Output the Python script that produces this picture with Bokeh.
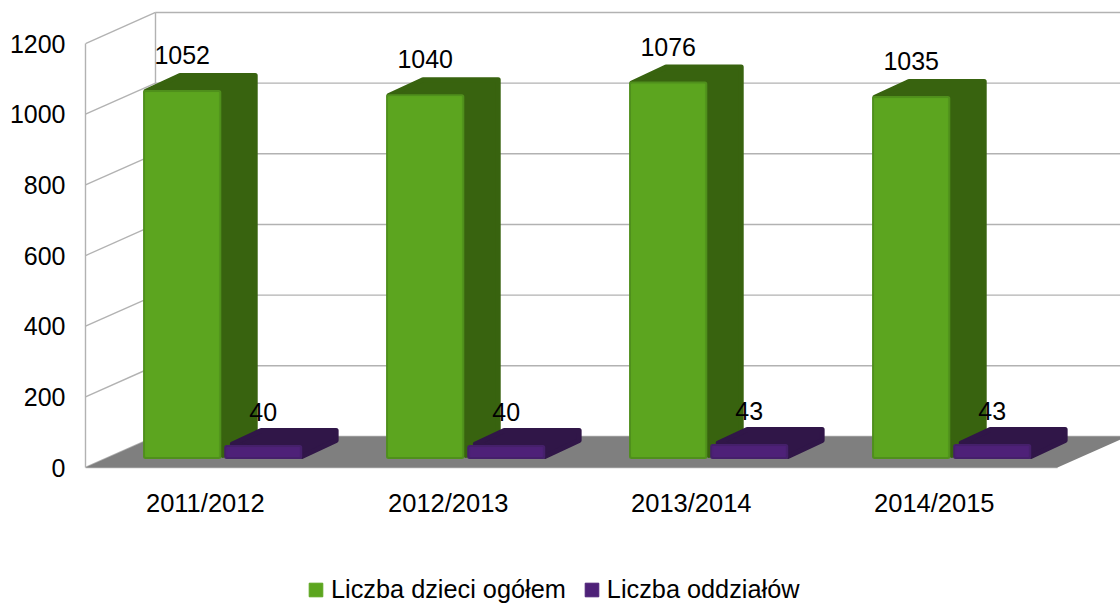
from bokeh.plotting import figure
from bokeh.models import Range1d, FixedTicker, Legend, LegendItem, LinearAxis
from bokeh.core.properties import value
from bokeh.embed import file_html
from bokeh.resources import INLINE

categories = ["2011/2012", "2012/2013", "2013/2014", "2014/2015"]
dzieci = [1052, 1040, 1076, 1035]
oddzialy = [40, 40, 43, 43]
y_ticks = [0, 200, 400, 600, 800, 1000, 1200]
series_names = ["Liczba dzieci ogółem", "Liczba oddziałów"]

FONT = "Liberation Sans"
W, H = 1120, 603
PX_X = 243.0
PX_Y = 0.3533
LEFT = 85
DX, DY = 70 / PX_X, 88.0       # shift of the back wall, in data units
D0, D1 = 0.26, 0.78            # bar depth
BAR_LIFT = 1.05                # bars rise a little faster with depth than the walls
BAR_K = 0.993                  # bars sit a little deeper, so a little smaller
GREEN = ("#5CA51F", "#4F8F1C", "#38630F")
PURPLE = ("#4E2178", "#45206A", "#301648")
GRID = "#B2B2B2"


def P(x, v, d, lift=1.0):
    return x + d * DX, v + d * DY * lift


def faces(x0, x1, v):
    top = v * BAR_K
    L = BAR_LIFT
    front = [P(x0, 0, D0, L), P(x1, 0, D0, L), P(x1, top, D0, L), P(x0, top, D0, L)]
    body = [P(x1, 0, D0, L), P(x1, 0, D1, L), P(x1, top, D1, L), P(x0, top, D1, L), P(x0, top, D0, L)]
    return front, body


def inset(q, r):
    """Move a counter-clockwise convex polygon inwards by r screen pixels, so a round stroke rebuilds its outline."""
    pts = [(a * PX_X, b * PX_Y) for a, b in q]
    m = len(pts)
    lines = []
    for k in range(m):
        (x1, y1), (x2, y2) = pts[k], pts[(k + 1) % m]
        dx, dy = x2 - x1, y2 - y1
        ln = (dx * dx + dy * dy) ** 0.5
        nx, ny = -dy / ln, dx / ln
        lines.append((x1 + nx * r, y1 + ny * r, dx, dy))
    out = []
    for k in range(m):
        x1, y1, dx1, dy1 = lines[k - 1]
        x2, y2, dx2, dy2 = lines[k]
        det = dx1 * dy2 - dy1 * dx2
        t = ((x2 - x1) * dy2 - (y2 - y1) * dx2) / det
        out.append(((x1 + t * dx1) / PX_X, (y1 + t * dy1) / PX_Y))
    return out


def xy(polys):
    return [[a for a, _ in q] for q in polys], [[b for _, b in q] for q in polys]


n = len(categories)
x_end = (W - LEFT) / PX_X
p = figure(width=W, height=H, output_backend="svg", toolbar_location=None, tools="",
           x_range=Range1d(0, x_end), y_range=Range1d(-136 / PX_Y, 467 / PX_Y),
           x_axis_type=None, y_axis_type=None,
           min_border_left=LEFT, min_border_bottom=0, min_border_top=0, min_border_right=0)
p.grid.visible = False
p.outline_line_color = None
p.background_fill_color = "white"
p.border_fill_color = "white"

# walls
xs, ys = [], []
for t in y_ticks:
    a, b = P(0, t, 0), P(0, t, 1)
    xs += [[a[0], b[0]], [b[0], x_end]]
    ys += [[a[1], b[1]], [b[1], b[1]]]
xs.append([P(0, 0, 1)[0]] * 2)
ys.append([P(0, 0, 1)[1], P(0, y_ticks[-1], 1)[1]])
xs.append([0, n])
ys.append([0, 0])
p.multi_line(xs, ys, line_color=GRID, line_width=1.4)

# floor
fx, fy = xy([[P(0, 0, 0), P(n, 0, 0), P(n, 0, 1), P(0, 0, 1)]])
p.patches(fx, fy, fill_color="#7F7F7F", line_color=None)

# bars
legend_refs = []
layers = [(dzieci, 0.162, 0.484, GREEN, -35), (oddzialy, 0.496, 0.817, PURPLE, -33)]
for i in range(n):
    for vals, a, b, col, _ in layers:
        front, body = faces(i + a, i + b, vals[i])
        qx, qy = xy([inset(body, 2.5)])
        p.patches(qx, qy, fill_color=col[2], line_color=col[2], line_width=5, line_join="round")
        qx, qy = xy([inset(front, 2.5)])
        p.patches(qx, qy, fill_color=col[1], line_color=col[1], line_width=5, line_join="round")
        qx, qy = xy([inset(front, 2.5)])
        r = p.patches(qx, qy, fill_color=col[0], line_color=col[0], line_width=1)
        if i == 0:
            legend_refs.append(r)

# data labels
for vals, a, b, _, off in layers:
    lx = [P(i + (a + b) / 2, 0, D0)[0] for i in range(n)]
    ly = [P(0, v * BAR_K, D0, BAR_LIFT)[1] for v in vals]
    p.text(lx, ly, text=[str(v) for v in vals], text_font=value(FONT), text_font_size="25px",
           text_color="black", text_align="center", text_baseline="middle", y_offset=off)

# axes
ya = LinearAxis(ticker=FixedTicker(ticks=y_ticks), bounds=(0, y_ticks[-1]))
ya.axis_line_color = GRID
ya.axis_line_width = 1.4
ya.major_tick_line_color = None
ya.minor_tick_line_color = None
ya.major_label_standoff = 14
ya.major_label_text_font = FONT
ya.major_label_text_font_size = "25px"
ya.major_label_text_color = "black"
p.add_layout(ya, "left")

centres = [i + 0.493 for i in range(n)]
xa = LinearAxis(ticker=FixedTicker(ticks=centres), fixed_location=0,
                major_label_overrides={c: t for c, t in zip(centres, categories)})
xa.axis_line_color = None
xa.major_tick_line_color = None
xa.minor_tick_line_color = None
xa.major_label_standoff = 15
xa.major_label_text_font = FONT
xa.major_label_text_font_size = "25.5px"
xa.major_label_text_color = "black"
p.add_layout(xa, "below")

legend = Legend(items=[LegendItem(label=value(series_names[k]), renderers=[legend_refs[k]]) for k in range(2)],
                orientation="horizontal", location=(222, -1), border_line_color=None, background_fill_alpha=0,
                glyph_width=17, glyph_height=17, label_standoff=7, spacing=17, padding=0, margin=0,
                label_text_font=FONT, label_text_font_size="25.3px", label_text_color="black")
p.add_layout(legend, "center")

open("out.html", "w").write(file_html(p, INLINE))
